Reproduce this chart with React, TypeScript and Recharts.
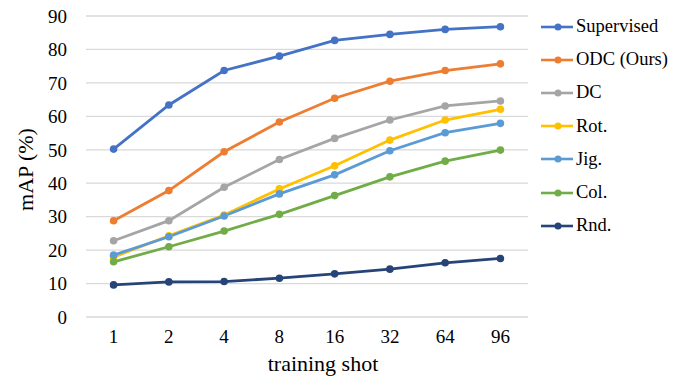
import { CartesianGrid, Label, Line, LineChart, XAxis, YAxis } from "recharts";

const shots = ["1", "2", "4", "8", "16", "32", "64", "96"];
const supervised = [50.2, 63.4, 73.7, 78.0, 82.7, 84.5, 86.0, 86.8];
const odc = [28.8, 37.8, 49.4, 58.3, 65.4, 70.5, 73.7, 75.7];
const dc = [22.8, 28.8, 38.8, 47.1, 53.4, 58.9, 63.1, 64.6];
const rot = [17.9, 24.3, 30.5, 38.3, 45.2, 52.9, 58.9, 62.1];
const jig = [18.5, 24.0, 30.2, 36.8, 42.5, 49.7, 55.1, 57.9];
const col = [16.5, 21.0, 25.7, 30.7, 36.3, 41.9, 46.6, 49.9];
const rnd = [9.6, 10.5, 10.6, 11.6, 12.9, 14.3, 16.2, 17.5];
const yTicks = [0, 10, 20, 30, 40, 50, 60, 70, 80, 90];

const series = [
  { key: "Supervised", values: supervised, color: "#4472C4" },
  { key: "ODC (Ours)", values: odc, color: "#ED7D31" },
  { key: "DC", values: dc, color: "#A5A5A5" },
  { key: "Rot.", values: rot, color: "#FFC000" },
  { key: "Jig.", values: jig, color: "#5B9BD5" },
  { key: "Col.", values: col, color: "#70AD47" },
  { key: "Rnd.", values: rnd, color: "#264478" },
];

const data = shots.map((name, i) => {
  const row: Record<string, string | number> = { name };
  series.forEach((s) => (row[s.key] = s.values[i]));
  return row;
});

const font = "'Liberation Serif', 'Times New Roman', serif";
const tick = { fill: "#000", fontSize: 19, fontFamily: font };
const titleStyle = { fill: "#000", fontSize: 22, fontFamily: font };

function LegendList() {
  return (
    <div style={{ position: "absolute", left: 541, top: 10, fontFamily: font, fontSize: 18.5, color: "#000" }}>
      {series.map((s) => (
        <div key={s.key} style={{ display: "flex", alignItems: "center", height: 33.2 }}>
          <svg width={32} height={10} style={{ marginRight: 3 }}>
            <line x1={0} x2={32} y1={5} y2={5} stroke={s.color} strokeWidth={2.6} />
            <circle cx={17} cy={5} r={3.5} fill={s.color} />
          </svg>
          <span>{s.key}</span>
        </div>
      ))}
    </div>
  );
}

export default function App() {
  return (
    <div style={{ position: "absolute", left: 0, top: 0, width: 677, height: 378, background: "#fff" }}>
      <LineChart width={677} height={378} data={data} margin={{ top: 16, right: 149, bottom: 6, left: 0 }}>
        <CartesianGrid stroke="#d9d9d9" strokeWidth={1.3} vertical={false} />
        <XAxis
          dataKey="name"
          axisLine={false}
          tickLine={false}
          tickSize={0}
          tickMargin={13}
          height={55}
          padding={{ left: 27.6, right: 27.6 }}
          tick={tick}
        >
          <Label
            content={({ viewBox }: any) => (
              <text
                x={viewBox.x + viewBox.width / 2 + 16}
                y={371}
                textAnchor="middle"
                style={titleStyle}
              >
                training shot
              </text>
            )}
          />
        </XAxis>
        <YAxis
          domain={[0, 90]}
          ticks={yTicks}
          axisLine={false}
          tickLine={false}
          tickSize={0}
          tickMargin={19}
          width={86}
          tick={tick}
        >
          <Label
            content={({ viewBox }: any) => (
              <text
                x={0}
                y={0}
                transform={`translate(33, ${viewBox.y + viewBox.height / 2 + 3}) rotate(-90)`}
                textAnchor="middle"
                style={titleStyle}
              >
                mAP (%)
              </text>
            )}
          />
        </YAxis>
        {series.map((s) => (
          <Line
            key={s.key}
            dataKey={s.key}
            stroke={s.color}
            strokeWidth={2.8}
            dot={{ r: 3.8, fill: s.color, stroke: s.color, strokeWidth: 0 }}
            activeDot={false}
            isAnimationActive={false}
          />
        ))}
      </LineChart>
      <LegendList />
    </div>
  );
}
